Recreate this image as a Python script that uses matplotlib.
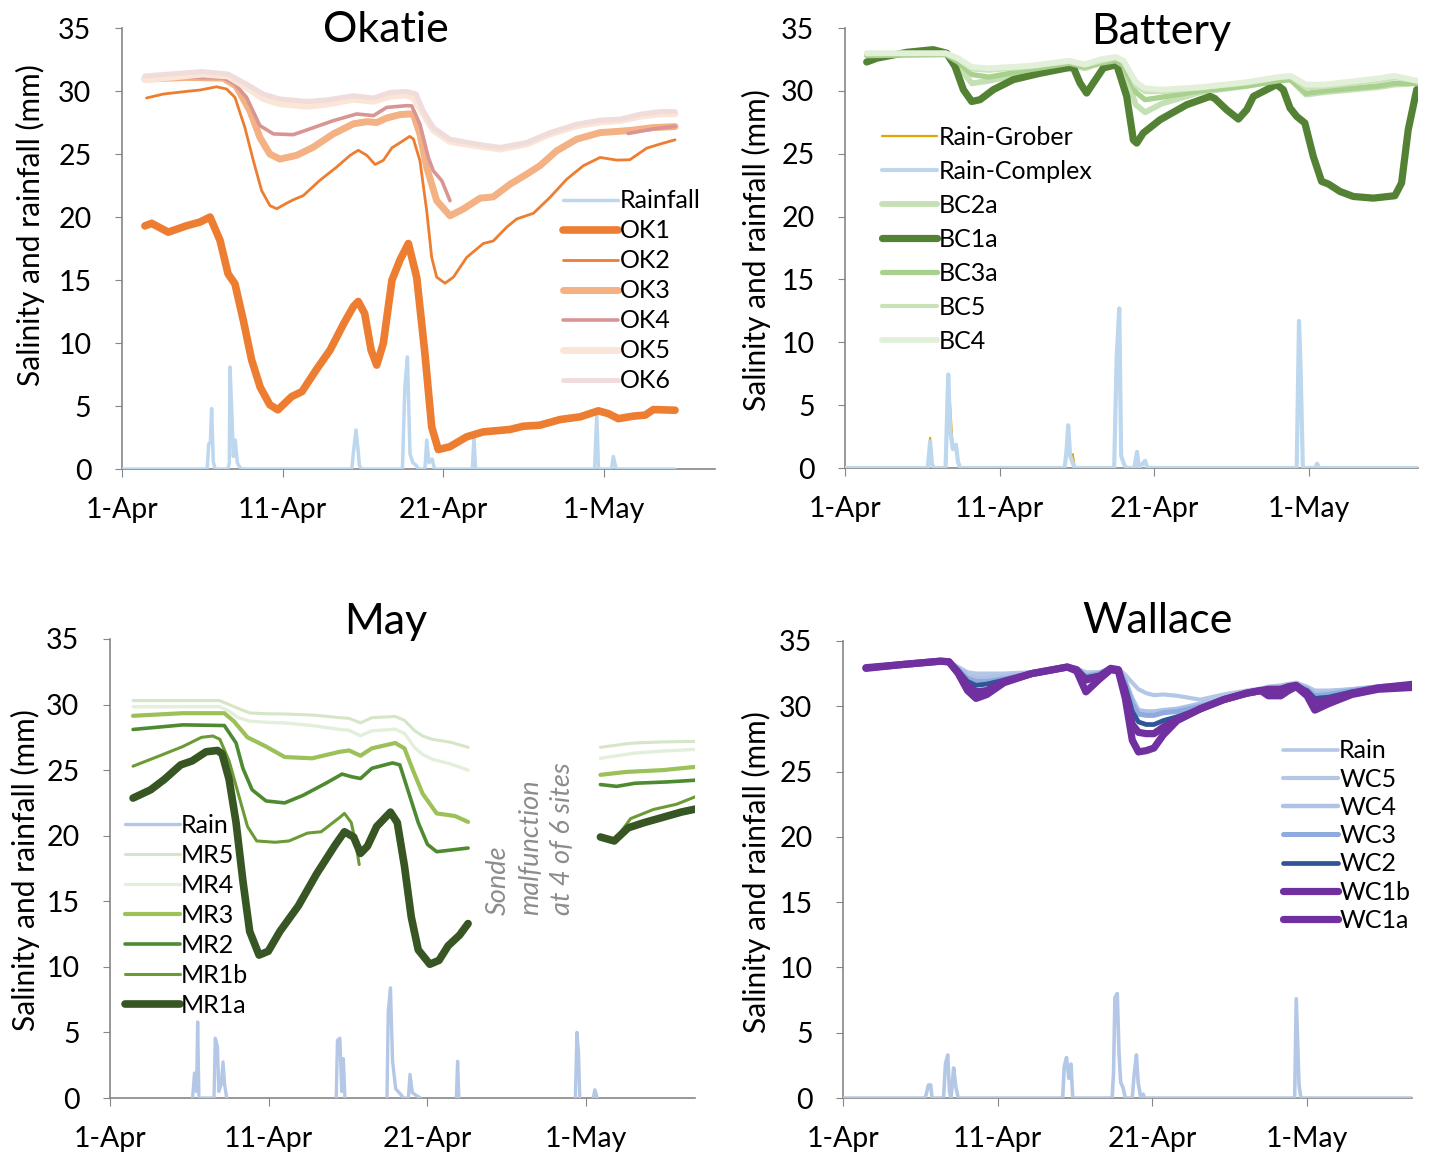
import numpy as np
import matplotlib
matplotlib.use("Agg")
import matplotlib.pyplot as plt

plt.rcParams['font.family'] = ['Lato', 'DejaVu Sans']
plt.rcParams['lines.solid_joinstyle'] = 'round'
plt.rcParams['lines.solid_capstyle'] = 'round'

# ---- x axis: days since 1-Apr ----
date_ticks = [0, 10, 20, 30]
date_labels = ['1-Apr', '11-Apr', '21-Apr', '1-May']
NaN = np.nan

# ================= Okatie =================
ok_rain_day = [0, 5.3, 5.4, 5.5, 5.58, 5.68, 5.8, 6.6, 6.68, 6.72, 6.85, 6.93, 7.05, 7.18, 7.3, 7.45,
               14.3, 14.4, 14.56, 14.7, 14.77, 14.9, 17.45, 17.6, 17.76, 17.92, 18.1, 18.3, 18.45,
               18.85, 18.96, 19.1, 19.3, 19.45, 21.8, 21.9, 22.0, 29.4, 29.54, 29.65, 30.45, 30.57, 30.75, 34.4]
ok_rain_val = [0, 0, 2.0, 2.1, 4.8, 0.6, 0, 0, 0.5, 8.1, 4.0, 1.0, 2.3, 0.5, 0.2, 0,
               0, 1.3, 3.1, 1.4, 0.3, 0, 0, 6.5, 8.9, 1.2, 0.5, 0.3, 0,
               0, 2.3, 0.5, 0.8, 0, 0, 2.5, 0, 0, 4.3, 0, 0, 1.0, 0, 0]

ok1_day = [1.43, 1.85, 2.88, 4.0, 4.85, 5.48, 6.1, 6.6, 7.03, 7.55, 8.07, 8.6, 9.2, 9.7, 10.56, 11.2,
           12.1, 12.95, 13.8, 14.4, 14.7, 15.1, 15.5, 15.85, 16.26, 16.8, 17.3, 17.82, 18.34, 18.85,
           19.27, 19.68, 20.4, 21.45, 22.48, 24.14, 24.97, 26.0, 27.26, 28.5, 29.64, 30.26, 30.88,
           31.82, 32.55, 33.06, 34.41]
ok1_val = [19.3, 19.5, 18.8, 19.3, 19.6, 20.0, 18.15, 15.5, 14.7, 11.8, 8.65, 6.5, 5.1, 4.7, 5.75, 6.15,
           7.9, 9.45, 11.55, 12.9, 13.3, 12.35, 9.45, 8.25, 9.97, 15.0, 16.6, 17.9, 15.2, 9.15,
           3.35, 1.55, 1.77, 2.56, 2.95, 3.14, 3.4, 3.48, 3.93, 4.14, 4.62, 4.4, 4.0,
           4.2, 4.28, 4.72, 4.67]

ok2_day = [1.53, 2.57, 4.0, 4.85, 5.89, 6.51, 7.03, 7.65, 8.17, 8.69, 9.21, 9.63, 10.25, 10.66, 11.28,
           12.3, 13.35, 14.2, 14.7, 15.23, 15.75, 16.26, 16.8, 17.3, 17.9, 18.13, 18.54, 18.96, 19.27,
           19.58, 20.1, 20.62, 21.45, 22.48, 23.1, 23.94, 24.56, 25.6, 26.63, 27.67, 28.7, 29.75,
           30.78, 31.6, 32.65, 33.5, 34.41]
ok2_val = [29.45, 29.76, 29.97, 30.08, 30.34, 30.16, 29.5, 27.1, 24.5, 22.1, 20.9, 20.66, 21.1, 21.37, 21.7,
           22.9, 23.96, 24.9, 25.3, 24.9, 24.17, 24.5, 25.5, 25.9, 26.4, 26.2, 24.47, 20.5, 16.8,
           15.23, 14.75, 15.23, 16.8, 17.9, 18.1, 19.2, 19.85, 20.3, 21.56, 23.0, 24.07, 24.73,
           24.52, 24.55, 25.47, 25.8, 26.13]

ok3_day = [1.43, 4.0, 6.3, 7.1, 7.96, 8.58, 9.2, 9.83, 10.87, 11.9, 13.15, 14.4, 15.23, 15.85, 16.47,
           17.3, 17.92, 18.13, 18.54, 18.96, 19.58, 20.41, 21.24, 22.28, 23.1, 24.14, 25.18, 26.0,
           27.05, 28.29, 29.75, 30.78, 31.82, 33.06, 34.41]
ok3_val = [30.95, 31.08, 31.03, 30.4, 28.44, 26.33, 25.0, 24.6, 24.9, 25.54, 26.6, 27.4, 27.57, 27.5, 27.86,
           28.13, 28.18, 28.16, 26.58, 23.94, 21.3, 20.1, 20.64, 21.5, 21.6, 22.6, 23.4, 24.07,
           25.26, 26.18, 26.7, 26.79, 26.9, 27.1, 27.18]

ok4_day = [1.43, 4.0, 6.3, 7.0, 7.75, 8.58, 9.42, 10.66, 11.7, 13.15, 14.6, 15.65, 16.47, 17.7, 18.03,
           18.54, 19.06, 19.37, 19.9, 20.41, 20.5, 31.5, 33.06, 34.41]
ok4_val = [31.0, 31.1, 31.05, 30.6, 29.5, 27.26, 26.6, 26.54, 27.0, 27.65, 28.18, 28.05, 28.7, 28.84, 28.82,
           27.37, 24.73, 23.67, 22.88, 21.3, NaN, 26.63, 27.0, 27.2]

ok5_day = [1.43, 5.0, 6.6, 7.75, 8.8, 9.83, 11.49, 12.7, 14.4, 15.65, 16.7, 17.7, 18.13, 18.75, 19.37,
           20.41, 21.86, 23.52, 25.18, 26.63, 28.29, 29.75, 30.99, 32.23, 33.48, 34.41]
ok5_val = [30.9, 31.35, 31.2, 30.3, 29.4, 29.0, 28.8, 28.95, 29.35, 29.2, 29.6, 29.7, 29.5, 28.2, 26.9,
           26.0, 25.7, 25.4, 25.8, 26.6, 27.25, 27.55, 27.65, 28.0, 28.2, 28.2]

ok6_day = [1.43, 5.0, 6.6, 7.75, 8.8, 9.83, 11.49, 12.7, 14.4, 15.65, 16.7, 17.7, 18.3, 18.75, 19.37,
           20.41, 21.86, 23.52, 25.18, 26.63, 28.29, 29.75, 30.99, 32.23, 33.48, 34.41]
ok6_val = [31.2, 31.55, 31.35, 30.55, 29.76, 29.37, 29.18, 29.29, 29.63, 29.45, 29.9, 29.97, 29.76, 28.42, 27.1,
           26.18, 25.84, 25.52, 25.92, 26.7, 27.37, 27.69, 27.77, 28.16, 28.37, 28.37]

# ================= Battery =================
bat_rain_day = [0, 5.35, 5.5, 5.62, 5.75, 6.5, 6.67, 6.8, 6.97, 7.17, 7.3, 7.45, 14.2, 14.33, 14.43, 14.55,
                14.72, 14.85, 17.4, 17.56, 17.73, 17.85, 18.03, 18.2, 18.7, 18.88, 19.0, 19.4, 19.55,
                29.2, 29.35, 29.45, 29.6, 30.4, 30.52, 30.65, 37.0]
grober_val = [0, 0, 2.4, 0.3, 0, 0, 6.8, 4.8, 1.5, 1.6, 0.4, 0, 0, 1.2, 1.8, 1.0,
              1.1, 0, 0, 9.5, 8.8, 1.1, 0.3, 0, 0, 1.0, 0, 0.5, 0,
              0, 8.0, 6.0, 0, 0, 0.3, 0, 0]
complex_val = [0, 0, 2.1, 0.3, 0, 0, 7.44, 3.0, 1.5, 1.85, 0.5, 0, 0, 1.56, 3.4, 1.0,
               0.4, 0, 0, 8.8, 12.7, 1.0, 0.3, 0, 0, 1.28, 0, 0.57, 0,
               0, 11.7, 8.0, 0, 0, 0.34, 0, 0]

bc_day = [1.4, 6.5, 7.3, 8.2, 9.3, 12.0, 14.5, 15.5, 16.5, 17.5, 18.0, 18.8, 19.4, 20.5, 23.0, 26.0,
          28.0, 28.8, 29.8, 31.0, 34.5, 35.5, 37.0]
bc2a_val = [32.9, 32.9, 32.0, 30.6, 30.8, 31.5, 32.1, 31.8, 32.2, 32.4, 31.8, 28.9, 28.3, 29.0, 29.9, 30.4,
            30.8, 30.9, 29.7, 29.9, 30.3, 30.5, 30.6]
bc3a_val = [32.8, 32.9, 32.3, 31.3, 31.1, 31.7, 32.2, 31.9, 32.2, 32.4, 32.0, 29.9, 29.3, 29.5, 30.0, 30.4,
            30.8, 30.9, 29.8, 30.0, 30.4, 30.6, 30.6]
bc5_val = [32.9, 33.0, 32.5, 31.7, 31.6, 31.9, 32.3, 32.0, 32.3, 32.6, 32.3, 30.4, 29.9, 29.9, 30.2, 30.6,
           31.0, 31.1, 30.2, 30.3, 30.8, 31.0, 30.8]
bc4_val = [33.0, 33.0, 32.6, 31.9, 31.8, 32.0, 32.4, 32.1, 32.5, 32.7, 32.4, 30.7, 30.2, 30.1, 30.3, 30.7,
           31.1, 31.2, 30.5, 30.5, 31.0, 31.2, 30.8]

bc1a_day = [1.4, 2.05, 4.0, 5.7, 6.57, 7.11, 7.65, 8.19, 8.73, 9.59, 10.88, 12.6, 14.33, 14.76, 15.19,
            15.62, 16.05, 16.7, 17.56, 18.21, 18.64, 18.86, 19.28, 20.36, 22.09, 23.6, 23.9, 24.67,
            25.43, 25.97, 26.4, 27.26, 27.9, 28.33, 28.77, 29.2, 29.73, 30.27, 30.81, 31.24, 32.0,
            32.86, 34.15, 35.55, 35.98, 36.41, 36.96]
bc1a_val = [32.3, 32.6, 33.07, 33.28, 33.0, 31.95, 30.1, 29.16, 29.3, 30.1, 30.9, 31.4, 31.82, 31.87, 30.63,
            29.83, 30.63, 31.82, 32.09, 29.56, 26.1, 25.85, 26.65, 27.7, 28.9, 29.56, 29.4, 28.5,
            27.76, 28.5, 29.56, 30.1, 30.5, 30.1, 28.64, 27.97, 27.44, 24.8, 22.8, 22.6, 22.0,
            21.6, 21.47, 21.66, 22.67, 26.9, 30.1]

# ================= May =================
may_rain_day = [5.2, 5.32, 5.45, 5.52, 5.6, 6.55, 6.63, 6.77, 6.85, 7.0, 7.12, 7.22, 7.35, NaN,
                14.25, 14.33, 14.48, 14.6, 14.7, 14.8, NaN,
                17.45, 17.53, 17.67, 17.8, 18.0, 18.3, 18.5, 18.8, 18.9, 19.05, 19.3, 19.55, NaN,
                21.82, 21.9, 21.98, NaN, 29.32, 29.42, 29.52, 29.6, NaN, 30.45, 30.55, 30.7]
may_rain_val = [0, 1.9, 0.5, 5.8, 0, 0, 4.56, 3.9, 0.5, 1.0, 2.76, 1.0, 0, NaN,
                0, 4.4, 4.56, 0.5, 3.0, 0, NaN,
                0, 6.6, 8.4, 2.8, 0.7, 0.3, 0, 0, 1.8, 0.4, 0.2, 0, NaN,
                0, 2.8, 0, NaN, 0, 5.0, 3.45, 0, NaN, 0, 0.63, 0]

may_day = [1.45, 4.59, 6.9, 7.5, 8.08, 8.8, 9.83, 11.0, 12.73, 13.3, 14.48, 15.06, 15.78, 16.5, 17.97,
           18.55, 19.2, 19.7, 20.3, 21.45, 22.56, NaN, 30.9, 32.5, 33.08, 34.83, 37.15]
mr5_val = [30.3, 30.3, 30.3, 30.0, 29.7, 29.36, 29.3, 29.28, 29.2, 29.14, 29.0, 28.95, 28.6, 29.0, 29.09,
           28.8, 28.0, 27.6, 27.35, 27.13, 26.74, NaN, 26.74, 27.0, 27.07, 27.15, 27.2]
mr4_val = [29.83, 29.83, 29.83, 29.5, 29.0, 28.73, 28.65, 28.6, 28.4, 28.3, 28.1, 28.04, 27.62, 28.0, 28.12,
           27.8, 26.7, 26.2, 25.83, 25.47, 25.0, NaN, 25.9, 26.2, 26.3, 26.45, 26.6]

mr3_day = [1.45, 4.59, 7.2, 7.8, 8.66, 9.83, 11.0, 12.73, 14.48, 15.06, 15.78, 16.5, 17.97, 18.55, 19.13,
           19.7, 20.58, 21.74, 22.56, NaN, 30.9, 32.5, 34.83, 37.15]
mr3_val = [29.14, 29.34, 29.34, 28.73, 27.5, 26.8, 26.0, 25.9, 26.4, 26.5, 26.1, 26.66, 27.07, 26.66, 24.86,
           23.2, 21.7, 21.5, 21.05, NaN, 24.64, 24.86, 25.0, 25.28]

mr2_day = [1.45, 4.59, 7.2, 7.94, 8.37, 8.95, 9.83, 11.0, 12.15, 13.6, 14.62, 15.2, 15.78, 16.5, 17.8,
           18.26, 18.84, 19.42, 20.0, 20.58, 21.45, 22.56, NaN, 30.9, 31.92, 33.08, 35.1, 37.15]
mr2_val = [28.1, 28.45, 28.4, 27.07, 25.14, 23.5, 22.65, 22.5, 23.07, 24.0, 24.7, 24.5, 24.36, 25.14, 25.55,
           25.4, 23.2, 21.0, 19.34, 18.78, 18.9, 19.06, NaN, 23.9, 23.76, 24.0, 24.1, 24.25]

mr1b_day = [1.45, 3.14, 4.59, 5.76, 6.48, 6.92, 7.5, 8.08, 8.66, 9.24, 10.4, 11.28, 12.44, 13.3, 14.48,
            14.77, 15.2, 15.5, 15.7, NaN, 31.77, 32.8, 34.24, 35.7, 37.15]
mr1b_val = [25.3, 26.1, 26.8, 27.5, 27.6, 27.35, 25.7, 23.2, 20.7, 19.6, 19.5, 19.6, 20.2, 20.3, 21.4,
            21.7, 21.0, 19.3, 17.8, NaN, 19.6, 21.3, 22.0, 22.4, 23.1]

mr1a_day = [1.45, 2.56, 3.43, 4.45, 5.17, 6.05, 6.77, 7.06, 7.5, 7.94, 8.37, 8.8, 9.39, 9.97, 10.7, 11.86,
            13.02, 14.19, 14.77, 15.35, 15.78, 16.22, 16.8, 17.67, 18.1, 18.55, 18.98, 19.42, 20.15,
            20.73, 21.3, 22.03, 22.56, NaN, 30.9, 31.77, 32.65, 33.66, 34.83, 35.99, 37.15]
mr1a_val = [22.87, 23.5, 24.3, 25.4, 25.7, 26.4, 26.5, 26.24, 24.3, 21.0, 16.57, 12.7, 10.9, 11.19, 12.7, 14.64,
            17.1, 19.3, 20.3, 19.9, 18.65, 19.2, 20.7, 21.8, 21.0, 17.7, 13.8, 11.3, 10.2,
            10.5, 11.6, 12.43, 13.3, NaN, 19.9, 19.6, 20.6, 21.0, 21.4, 21.8, 22.1]

# ================= Wallace =================
wal_rain_day = [0, 5.3, 5.38, 5.52, 5.67, 5.75, 6.5, 6.62, 6.77, 6.88, 6.98, 7.06, 7.15, 7.3, 7.45,
                14.2, 14.3, 14.45, 14.6, 14.74, 14.85, 17.4, 17.49, 17.58, 17.73, 17.84, 17.95, 18.1, 18.25,
                18.7, 18.82, 18.97, 19.08, 19.25, 19.4, 19.5, 29.2, 29.3, 29.48, 29.6, 37.0]
wal_rain_val = [0, 0, 0.3, 1.0, 1.0, 0, 0, 2.6, 3.3, 0.5, 0, 1.0, 2.3, 0.8, 0,
                0, 2.4, 3.1, 1.5, 2.6, 0, 0, 2.0, 7.7, 8.0, 3.5, 1.2, 0.8, 0,
                0, 1.8, 3.3, 1.2, 0, 0.3, 0, 0, 7.6, 1.0, 0, 0]

wc_day = [1.48, 3.9, 6.3, 6.85, 7.45, 8.05, 8.6, 9.3, 10.4, 12.2, 14.5, 15.1, 15.7, 16.6, 17.3, 17.8,
          18.25, 18.7, 19.1, 19.6, 20.1, 20.7, 21.6, 23.1, 24.6, 26.1, 27.0, 27.5, 28.3, 28.8, 29.3,
          30.0, 30.5, 31.4, 32.9, 34.6, 37.0]
wc1a_val = [32.9, 33.2, 33.45, 33.4, 32.5, 31.2, 30.6, 30.9, 31.8, 32.5, 33.0, 32.7, 31.1, 32.1, 32.8, 32.7,
            30.6, 27.4, 26.5, 26.6, 26.8, 27.8, 28.9, 29.8, 30.5, 31.0, 31.2, 30.8, 30.8, 31.2, 31.5,
            30.8, 29.7, 30.2, 30.9, 31.3, 31.45]
wc1b_val = [32.95, 33.2, 33.45, 33.4, 32.6, 31.6, 31.1, 31.2, 31.9, 32.5, 33.0, 32.8, 32.0, 32.3, 32.9, 32.8,
            31.0, 28.6, 28.0, 27.9, 27.9, 28.4, 29.0, 29.8, 30.5, 31.0, 31.2, 31.3, 31.3, 31.5, 31.6,
            31.0, 30.3, 30.5, 31.0, 31.4, 31.7]
wc2_val = [33.0, 33.2, 33.45, 33.4, 32.7, 31.9, 31.6, 31.7, 32.0, 32.5, 33.0, 32.8, 32.2, 32.4, 32.9, 32.8,
           31.5, 29.6, 28.8, 28.6, 28.6, 28.9, 29.2, 29.8, 30.5, 31.0, 31.2, 31.3, 31.3, 31.4, 31.5,
           31.2, 30.6, 30.7, 31.1, 31.4, 31.6]
wc3_val = [33.0, 33.2, 33.45, 33.4, 32.8, 32.1, 31.9, 31.9, 32.1, 32.5, 33.0, 32.85, 32.3, 32.5, 32.9, 32.8,
           31.8, 30.2, 29.4, 29.3, 29.3, 29.5, 29.6, 30.0, 30.5, 30.9, 31.1, 31.3, 31.4, 31.5, 31.6,
           31.3, 30.8, 30.9, 31.2, 31.5, 31.7]
wc4_val = [33.0, 33.2, 33.45, 33.4, 32.9, 32.3, 32.2, 32.2, 32.3, 32.6, 33.0, 32.9, 32.4, 32.6, 32.9, 32.85,
           32.0, 30.6, 29.7, 29.6, 29.6, 29.7, 29.8, 30.2, 30.6, 31.0, 31.2, 31.3, 31.4, 31.6, 31.7,
           31.4, 31.0, 31.1, 31.3, 31.5, 31.7]
wc5_val = [33.0, 33.2, 33.45, 33.4, 33.0, 32.6, 32.5, 32.5, 32.5, 32.6, 33.0, 32.9, 32.6, 32.6, 32.9, 32.9,
           32.4, 31.8, 31.3, 31.0, 30.85, 30.9, 30.8, 30.5, 30.9, 31.2, 31.35, 31.5, 31.6, 31.7, 31.8,
           31.5, 31.2, 31.2, 31.3, 31.5, 31.6]

# ---- figure ----
fig = plt.figure(figsize=(14.33, 11.59), dpi=100)

AX_GREY = '#868686'
TICK_FS = 20.5
LEG_FS = 18
YLAB_FS = 21.5


def style_axes(ax, xmax):
  ax.set_xlim(0, xmax)
  ax.set_ylim(0, 35)
  ax.set_yticks(range(0, 36, 5))
  ax.set_xticks(date_ticks)
  ax.set_xticklabels(date_labels)
  for s in ['top', 'right']:
    ax.spines[s].set_visible(False)
  for s in ['left', 'bottom']:
    ax.spines[s].set_color(AX_GREY)
    ax.spines[s].set_linewidth(1.2)
    ax.spines[s].set_zorder(1)  # rain baseline sits on top of the axis line
  ax.tick_params(axis='y', direction='out', length=5, color=AX_GREY, labelsize=TICK_FS, pad=17)
  ax.tick_params(axis='x', direction='out', length=6, color=AX_GREY, labelsize=TICK_FS, pad=14)
  ax.set_facecolor('none')


def add_legend(ax, x, y, spacing):
  leg = ax.legend(loc='upper left', bbox_to_anchor=(x, y), bbox_transform=fig.transFigure,
                  frameon=False, fontsize=LEG_FS, handlelength=2.2, handletextpad=0.05,
                  borderpad=0, borderaxespad=0, labelspacing=spacing)
  return leg


# Okatie
ax1 = fig.add_axes([0.0851, 0.5953, 0.4139, 0.3805])
ax1.plot(ok_rain_day, ok_rain_val, color='#BDD7EE', lw=2.5, label='Rainfall')
ax1.plot(ok1_day, ok1_val, color='#ED7D31', lw=5.5, label='OK1')
ax1.plot(ok2_day, ok2_val, color='#ED7D31', lw=2.0, label='OK2')
ax1.plot(ok3_day, ok3_val, color='#F4B183', lw=5.0, label='OK3')
ax1.plot(ok4_day, ok4_val, color='#D99594', lw=2.6, label='OK4')
ax1.plot(ok5_day, ok5_val, color='#FBE5D6', lw=5.0, label='OK5')
ax1.plot(ok6_day, ok6_val, color='#F0DCDB', lw=3.6, label='OK6')
style_axes(ax1, 36.9)
add_legend(ax1, 0.393, 0.8365, 0.28)

# Battery
ax2 = fig.add_axes([0.5897, 0.5962, 0.3998, 0.3796])
ax2.plot(bat_rain_day, grober_val, color='#E3A600', lw=1.6, label='Rain-Grober')
ax2.plot(bat_rain_day, complex_val, color='#BDD7EE', lw=3.0, label='Rain-Complex')
ax2.plot(bc_day, bc2a_val, color='#C5E0B4', lw=4.2, label='BC2a')
ax2.plot(bc1a_day, bc1a_val, color='#548235', lw=5.2, label='BC1a')
ax2.plot(bc_day, bc3a_val, color='#A9D18E', lw=3.8, label='BC3a')
ax2.plot(bc_day, bc5_val, color='#C9E2B8', lw=3.0, label='BC5')
ax2.plot(bc_day, bc4_val, color='#E2F0D9', lw=4.2, label='BC4')
style_axes(ax2, 37.04)
add_legend(ax2, 0.6155, 0.8917, 0.44)

# May
ax3 = fig.add_axes([0.0768, 0.0526, 0.4082, 0.3961])
ax3.plot(may_rain_day, may_rain_val, color='#B4C7E7', lw=2.4, label='Rain')
ax3.plot(may_day, mr5_val, color='#D5E6C6', lw=2.2, label='MR5')
ax3.plot(may_day, mr4_val, color='#E2EFDA', lw=2.4, label='MR4')
ax3.plot(mr3_day, mr3_val, color='#9BC158', lw=3.0, label='MR3')
ax3.plot(mr2_day, mr2_val, color='#4E8A30', lw=2.6, label='MR2')
ax3.plot(mr1b_day, mr1b_val, color='#6C9A35', lw=2.2, label='MR1b')
ax3.plot(mr1a_day, mr1a_val, color='#375623', lw=5.5, label='MR1a')
style_axes(ax3, 36.86)
add_legend(ax3, 0.0872, 0.2981, 0.28)
ax3.text(26.5, 19.8, 'Sonde\nmalfunction\nat 4 of 6 sites', rotation=90, ha='center', va='center',
         multialignment='left', fontsize=19.5, style='italic', color='#8C8C8C', linespacing=1.35)

# Wallace
ax4 = fig.add_axes([0.5883, 0.0526, 0.3970, 0.3944])
ax4.plot(wal_rain_day, wal_rain_val, color='#B4C7E7', lw=2.6, label='Rain')
ax4.plot(wc_day, wc5_val, color='#B4C7E7', lw=3.0, label='WC5')
ax4.plot(wc_day, wc4_val, color='#ADC2E6', lw=3.2, label='WC4')
ax4.plot(wc_day, wc3_val, color='#8FAADC', lw=3.6, label='WC3')
ax4.plot(wc_day, wc2_val, color='#2F5597', lw=3.4, label='WC2')
ax4.plot(wc_day, wc1b_val, color='#7030A0', lw=5.2, label='WC1b')
ax4.plot(wc_day, wc1a_val, color='#7030A0', lw=5.2, label='WC1a')
style_axes(ax4, 36.78)
add_legend(ax4, 0.8953, 0.362, 0.21)

# titles and y labels
fig.text(0.269, 0.974, 'Okatie', ha='center', va='center', fontsize=31)
fig.text(0.810, 0.972, 'Battery', ha='center', va='center', fontsize=31)
fig.text(0.269, 0.463, 'May', ha='center', va='center', fontsize=31)
fig.text(0.808, 0.464, 'Wallace', ha='center', va='center', fontsize=31)

ylab = 'Salinity and rainfall (mm)'
fig.text(0.021, 0.806, ylab, rotation=90, ha='center', va='center', fontsize=YLAB_FS)
fig.text(0.528, 0.784, ylab, rotation=90, ha='center', va='center', fontsize=YLAB_FS)
fig.text(0.018, 0.249, ylab, rotation=90, ha='center', va='center', fontsize=YLAB_FS)
fig.text(0.528, 0.248, ylab, rotation=90, ha='center', va='center', fontsize=YLAB_FS)

fig.savefig('out.png', dpi=100)
